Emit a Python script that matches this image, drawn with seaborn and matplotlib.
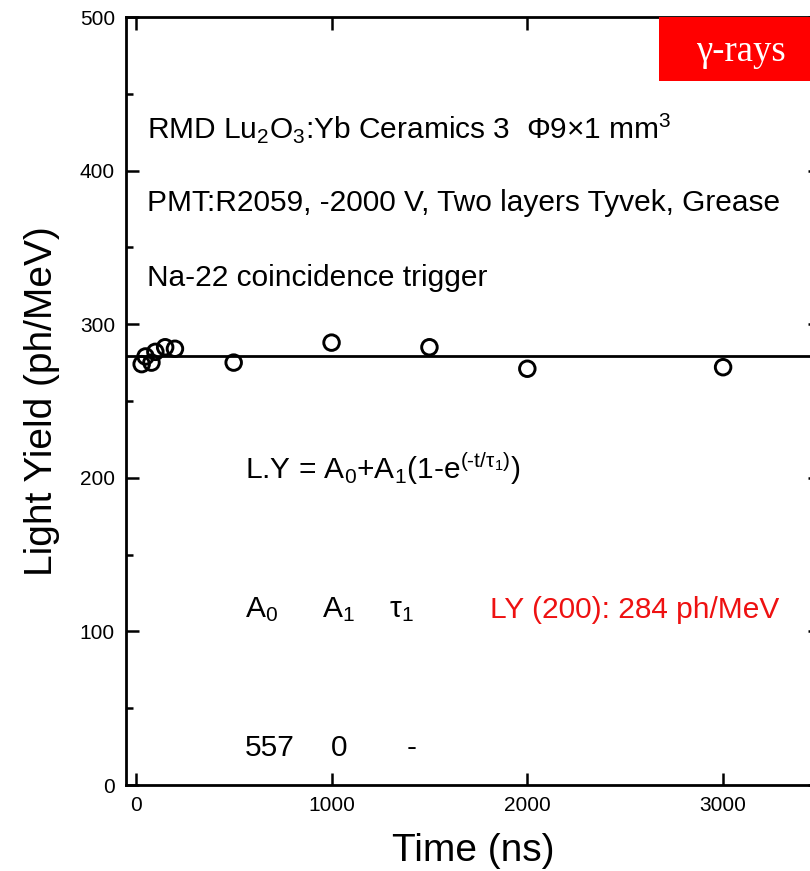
import matplotlib
matplotlib.use("Agg")
import matplotlib.pyplot as plt
from matplotlib.patches import Rectangle
from matplotlib.ticker import MultipleLocator
import seaborn as sns

# Light yield vs. shaping time
time_ns = [30, 50, 80, 100, 150, 200, 500, 1000, 1500, 2000, 3000]
light_yield = [274, 279, 275, 282, 285, 284, 275, 288, 285, 271, 272]
fit_level = 279

x_ticks = [0, 1000, 2000, 3000]
y_ticks = [0, 100, 200, 300, 400, 500]

sns.set_style("ticks")
plt.rcParams["font.family"] = ["Liberation Sans", "DejaVu Sans"]
plt.rcParams["text.color"] = "black"
plt.rcParams["axes.labelcolor"] = "black"
plt.rcParams["mathtext.fontset"] = "custom"
plt.rcParams["mathtext.rm"] = "Liberation Sans"
plt.rcParams["mathtext.it"] = "Liberation Sans"
plt.rcParams["mathtext.default"] = "rm"

W, H = 810, 871
fig = plt.figure(figsize=(W / 100, H / 100), dpi=100)
left_px, right_px, top_px, bottom_px = 126, 820, 17, 785
ax = fig.add_axes([left_px / W, 1 - bottom_px / H,
                   (right_px - left_px) / W, (bottom_px - top_px) / H])

ax.axhline(fit_level, color="black", lw=2.0, zorder=2)
sns.scatterplot(x=time_ns, y=light_yield, marker="o", s=125,
                facecolor="none", edgecolor="black", linewidth=2.1,
                ax=ax, zorder=3)

ax.set_xlim(-50, 3495)
ax.set_ylim(0, 500)
ax.set_xticks(x_ticks)
ax.set_yticks(y_ticks)
ax.yaxis.set_minor_locator(MultipleLocator(50))

for s in ax.spines.values():
    s.set_linewidth(2.0)
    s.set_color("black")
ax.tick_params(which="both", direction="in", top=True, right=True,
               width=1.8, color="black", labelsize=15, labelcolor="black")
ax.tick_params(which="major", length=9, pad=8)
ax.tick_params(which="minor", length=5)

ax.set_xlabel("Time (ns)", fontsize=28, labelpad=13)
ax.set_ylabel("Light Yield (ph/MeV)", fontsize=28, labelpad=14)

fs = 21.5
ax.text(56, 421, r"RMD Lu$_2$O$_3$:Yb Ceramics 3  Φ9×1 mm$^3$", fontsize=fs, va="baseline")
ax.text(56, 374, "PMT:R2059, -2000 V, Two layers Tyvek, Grease", fontsize=fs, va="baseline")
ax.text(56, 325, "Na-22 coincidence trigger", fontsize=fs, va="baseline")
ax.text(557, 199, "L.Y = A$_0$+A$_1$(1-e$^{(\u2010t/τ_1)}$)", fontsize=fs, va="baseline")
ax.text(557, 109, r"A$_0$", fontsize=fs, va="baseline")
ax.text(950, 109, r"A$_1$", fontsize=fs, va="baseline")
ax.text(1292, 109, r"τ$_1$", fontsize=fs, va="baseline")
ax.text(1808, 109, "LY (200): 284 ph/MeV", fontsize=fs, va="baseline", color="#ee1111")
ax.text(557, 19, "557", fontsize=fs, va="baseline")
ax.text(1037, 19, "0", fontsize=fs, va="baseline", ha="center")
ax.text(1410, 19, "-", fontsize=fs, va="baseline", ha="center")

# red tag in the top-right corner
fig.patches.append(Rectangle((659 / W, 1 - 81 / H), 170 / W, 63.5 / H,
                             transform=fig.transFigure, facecolor="#ff0000",
                             edgecolor="none", zorder=5))
fig.text(741 / W, 1 - 52 / H, "γ-rays", fontsize=26.5, color="white",
         family=["Liberation Serif", "DejaVu Serif"], ha="center", va="center", zorder=6)

fig.savefig("out.png", dpi=100)
